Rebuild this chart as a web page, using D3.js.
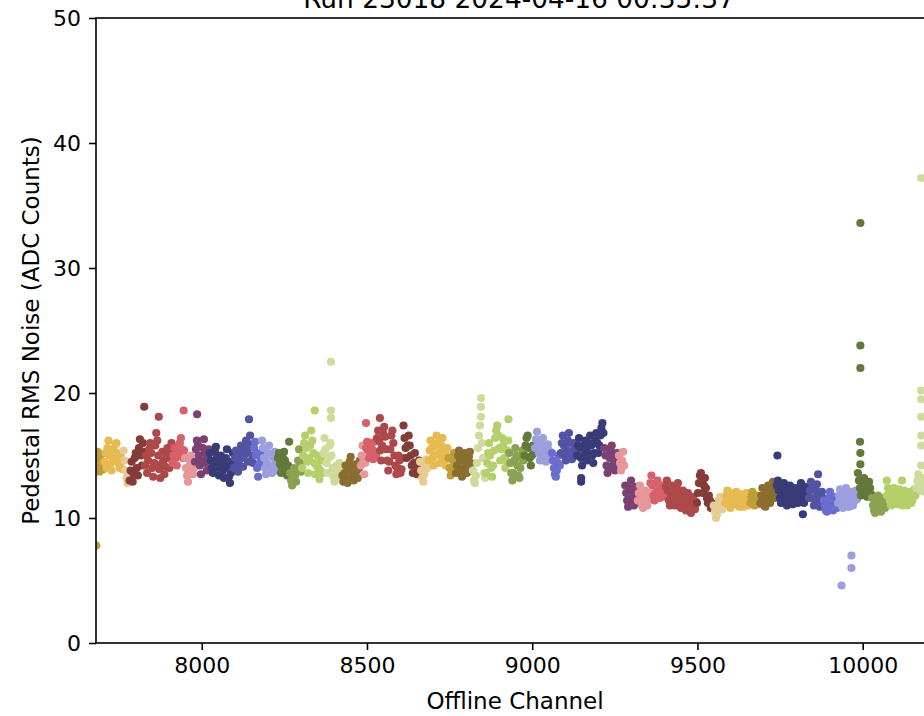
<!DOCTYPE html>
<html>
<head>
<meta charset="utf-8">
<script src="https://d3js.org/d3.v7.min.js"></script>
<style>
  body { margin: 0; background: #fff; }
  svg { display: block; font-family: "DejaVu Sans", sans-serif; }
</style>
</head>
<body>
<script>
// Pedestal RMS noise per offline channel, one APA (U, V, X planes)

var titleText = "Run 23018 2024-04-16 00:35:37";
var xTicks = [8000, 8500, 9000, 9500, 10000];
var yTicks = [0, 10, 20, 30, 40, 50];

// channel blocks (one colour each), start / end channel
var blockStart = [7680, 7704, 7762, 7780, 7827, 7910, 7948, 7978, 8023, 8096, 8157, 8181, 8229, 8266, 8302, 8367, 8424,
  8480, 8496, 8529, 8609, 8659, 8685, 8745, 8768, 8819, 8859, 8929, 8975, 9007, 9058, 9085, 9134, 9217, 9261,
  9280, 9318, 9356, 9403, 9497, 9548, 9583, 9659, 9689, 9739, 9836, 9881, 9924, 9984, 10027, 10072, 10161];
var blockEnd = [7704, 7762, 7780, 7827, 7910, 7948, 7978, 8023, 8096, 8157, 8181, 8229, 8266, 8302, 8367, 8424, 8480,
  8496, 8529, 8609, 8659, 8685, 8745, 8768, 8819, 8859, 8929, 8975, 9007, 9058, 9085, 9134, 9217, 9261, 9280,
  9318, 9356, 9403, 9497, 9548, 9583, 9659, 9689, 9739, 9836, 9881, 9924, 9984, 10027, 10072, 10161, 10240];
var blockColor = ["#bd9e39", "#e7ba52", "#e7cb94", "#843c39", "#ad494a", "#d6616b", "#e7969c", "#7b4173", "#393b79",
  "#5254a3", "#6b6ecf", "#9c9ede", "#637939", "#8ca252", "#b5cf6b", "#cedb9c", "#8c6d31",
  "#e7969c", "#d6616b", "#ad494a", "#843c39", "#e7cb94", "#e7ba52", "#bd9e39", "#8c6d31", "#cedb9c", "#b5cf6b",
  "#8ca252", "#637939", "#9c9ede", "#6b6ecf", "#5254a3", "#393b79", "#7b4173", "#e7969c",
  "#7b4173", "#e7969c", "#d6616b", "#ad494a", "#843c39", "#e7cb94", "#e7ba52", "#bd9e39", "#8c6d31", "#393b79",
  "#5254a3", "#6b6ecf", "#9c9ede", "#637939", "#8ca252", "#b5cf6b", "#cedb9c"];

// noise values read across each block, left to right
var blockValues = [
  // U plane
  [14.8, 15.3, 14.2, 13.7, 14.5, 15.1, 14.0, 13.9],
  [14.5, 15.2, 14.0, 15.6, 16.2, 15.0, 14.3, 13.8, 14.8, 15.5, 14.6, 15.9, 16.0, 15.2, 14.4, 14.0, 15.0, 14.5, 13.9],
  [15.4, 14.6, 13.8, 13.2, 12.8, 13.5],
  [13.0, 13.8, 14.5, 12.9, 13.5, 14.8, 15.2, 14.0, 13.4, 15.6, 16.3, 15.0, 14.2, 16.0, 15.3],
  [14.2, 15.0, 13.6, 14.6, 15.5, 16.0, 15.2, 14.0, 13.3, 14.4, 15.8, 16.8, 16.2, 15.0, 13.9, 13.2, 14.3, 15.3, 14.6, 13.5, 14.1, 15.0, 15.6, 14.8, 14.0, 15.4, 16.0],
  [14.4, 15.0, 15.6, 14.8, 14.2, 15.2, 15.8, 16.0, 16.4, 15.5, 14.8, 15.4],
  [14.8, 14.0, 13.4, 12.9, 13.6, 14.5, 15.0, 14.2, 13.5, 14.0],
  [14.5, 15.5, 16.2, 15.8, 15.0, 14.2, 13.5, 14.6, 15.6, 16.3, 15.2, 14.4, 13.8, 14.8, 15.5],
  [15.2, 14.6, 14.0, 13.6, 14.4, 15.3, 15.7, 14.8, 14.0, 13.4, 14.2, 15.0, 14.5, 13.8, 13.2, 14.0, 14.8, 15.5, 14.2, 13.3, 12.8, 13.6, 14.5, 15.2],
  [14.0, 14.8, 15.4, 14.2, 13.7, 14.6, 15.2, 15.8, 14.8, 14.1, 15.0, 15.6, 16.2, 15.3, 14.5, 15.8, 16.6, 15.9, 15.0, 14.4],
  [15.6, 16.1, 15.0, 14.0, 13.3, 14.2, 15.2, 14.6],
  [16.2, 15.6, 14.8, 14.0, 13.5, 14.4, 15.2, 15.8, 15.0, 14.2, 13.6, 14.0, 14.8, 15.3, 14.5, 13.8],
  [14.8, 15.2, 14.3, 13.6, 14.0, 14.8, 15.3, 14.6, 13.8, 13.4, 14.2, 16.1],
  [13.6, 13.0, 12.6, 13.2, 14.0, 13.4, 12.9, 13.8, 14.6, 15.5, 14.4, 13.7],
  [14.0, 15.0, 16.0, 16.6, 15.6, 14.5, 13.6, 14.8, 15.8, 17.0, 16.2, 15.2, 14.4, 13.5, 14.2, 15.0, 14.0, 13.1, 13.8, 14.6, 13.6],
  [15.2, 16.4, 15.5, 14.4, 13.6, 14.8, 15.8, 16.0, 15.0, 14.0, 13.3, 12.9, 13.5, 14.2, 13.2, 13.8, 14.4, 13.6, 13.1],
  [13.4, 12.9, 13.6, 14.2, 13.2, 12.8, 13.8, 14.5, 14.9, 14.0, 13.3, 13.0, 13.6, 14.3, 13.8, 13.2, 14.0, 14.6],
  // V plane
  [14.2, 15.0, 15.8, 14.6, 13.5, 14.4],
  [15.6, 16.1, 15.4, 14.8, 15.2, 16.0, 15.5, 14.7, 15.3, 16.1, 15.0],
  [16.4, 17.0, 16.2, 15.4, 14.6, 15.8, 16.8, 17.3, 16.5, 15.5, 14.6, 13.8, 14.5, 15.5, 16.6, 17.0, 16.0, 15.0, 14.2, 13.5, 14.0, 15.0, 14.6, 13.6, 13.9, 14.8],
  [17.4, 16.4, 15.6, 14.8, 15.8, 16.6, 15.8, 15.0, 14.2, 13.6, 14.4, 15.2, 14.3, 13.5, 13.9, 14.6],
  [14.5, 13.8, 13.2, 12.9, 13.5, 14.2, 14.7, 14.0],
  [14.6, 15.4, 16.2, 15.6, 14.8, 14.2, 15.0, 15.8, 16.6, 16.0, 15.2, 14.4, 15.0, 15.8, 16.4, 15.5, 14.6, 14.2, 15.0, 15.6],
  [14.8, 14.0, 13.4, 13.8, 14.6, 15.2, 14.3],
  [13.6, 14.2, 15.0, 15.4, 14.6, 13.8, 13.3, 14.0, 14.8, 15.2, 14.5, 13.6, 14.2, 14.9, 15.3, 14.4, 13.8],
  [13.8, 13.0, 12.8, 13.4, 14.4, 15.6, 16.6, 17.4, 18.1, 16.0, 14.8, 13.6, 13.2],
  [13.6, 14.4, 15.2, 16.0, 15.0, 14.0, 13.3, 14.2, 15.4, 16.4, 17.0, 17.4, 16.6, 15.6, 14.6, 15.5, 16.4, 15.8, 14.8, 14.0, 14.6, 15.4, 16.2],
  [15.2, 14.4, 13.6, 13.0, 13.6, 14.6, 15.6, 15.0, 14.2, 13.4, 13.2, 14.0, 14.8, 15.4, 14.6],
  [15.0, 15.8, 16.4, 16.6, 15.6, 14.8, 14.2, 15.0, 15.8, 15.2],
  [15.6, 16.3, 16.9, 16.0, 15.2, 14.6, 15.0, 15.8, 16.4, 15.6, 14.8, 14.5, 15.2, 15.9, 15.4, 14.8, 15.2],
  [15.2, 14.6, 14.0, 13.5, 13.3, 13.8, 14.4, 15.0, 14.2],
  [15.2, 16.0, 16.6, 15.8, 15.0, 14.6, 15.4, 16.2, 16.8, 16.0, 15.2, 14.7, 15.4, 16.0, 15.5, 15.0],
  [15.0, 15.8, 16.4, 15.6, 14.8, 14.2, 15.0, 15.8, 16.2, 15.4, 14.6, 15.2, 16.0, 16.6, 15.8, 15.0, 14.4, 15.2, 16.2, 16.8, 16.0, 15.2, 15.8, 16.6, 17.2, 17.6, 16.8],
  [15.6, 15.0, 14.2, 13.6, 14.0, 14.8, 15.4, 15.8, 15.0, 14.3, 13.8, 14.4, 15.2, 14.6],
  [15.0, 14.4, 13.8, 14.6, 15.3, 14.2],
  // X (collection) plane
  [12.6, 12.0, 11.4, 10.9, 11.6, 12.4, 13.0, 12.2, 11.5, 11.0, 11.8, 12.5, 11.8],
  [11.4, 12.0, 12.6, 11.8, 11.0, 10.8, 11.5, 12.2, 11.6, 11.0, 11.4, 12.0],
  [12.8, 13.4, 12.6, 11.8, 11.4, 12.0, 12.8, 13.0, 12.2, 11.6, 11.9, 12.6, 12.2, 11.7, 12.4],
  [12.5, 13.0, 12.2, 11.4, 11.0, 11.8, 12.6, 12.2, 11.5, 11.0, 11.6, 12.4, 12.8, 12.0, 11.2, 10.8, 11.5, 12.2, 11.8, 11.0, 10.6, 11.2, 12.0, 11.6, 10.8, 10.4, 11.0, 11.7, 11.2, 10.7, 11.3],
  [11.2, 12.0, 12.8, 13.4, 13.6, 12.8, 12.0, 12.6, 13.2, 12.4, 11.6, 11.2, 11.8, 11.4, 10.8, 11.2, 11.0],
  [11.0, 10.5, 10.0, 10.3, 10.9, 11.5, 11.7, 11.2, 10.7, 11.0, 11.4],
  [11.2, 11.8, 12.2, 11.6, 11.0, 10.8, 11.4, 12.0, 11.6, 11.1, 11.5, 12.1, 11.7, 11.0, 10.9, 11.4, 11.9, 11.3, 10.9, 11.2, 11.8, 12.0, 11.4, 11.0, 11.3],
  [11.2, 11.7, 12.1, 11.6, 11.0, 11.3, 11.8, 11.4, 11.1, 11.6],
  [11.2, 11.8, 12.4, 11.6, 11.0, 10.9, 11.5, 12.2, 12.6, 11.8, 11.2, 11.6, 12.3, 12.9, 12.2, 11.6, 12.0],
  [12.6, 13.0, 12.2, 11.6, 11.2, 11.8, 12.5, 12.8, 12.0, 11.4, 11.0, 11.6, 12.2, 12.6, 12.0, 11.3, 11.1, 11.7, 12.4, 12.0, 11.5, 11.2, 11.8, 12.4, 12.8, 12.1, 11.4, 11.2, 11.9, 12.5, 12.0, 11.6],
  [11.6, 12.2, 12.9, 12.4, 11.6, 11.0, 11.5, 12.2, 12.7, 12.0, 11.3, 10.9, 11.4, 12.1, 11.6],
  [11.4, 11.0, 10.6, 10.5, 11.0, 11.6, 12.1, 11.5, 10.9, 10.6, 11.1, 11.7, 11.2, 10.8],
  [11.2, 11.8, 12.3, 11.6, 11.0, 10.8, 11.4, 12.0, 12.4, 11.7, 11.1, 10.9, 11.5, 12.1, 11.6, 11.0, 11.3, 11.9, 12.2, 11.5],
  [13.6, 13.0, 12.4, 11.8, 12.2, 12.8, 13.2, 12.6, 12.0, 11.7, 12.3, 12.9, 12.4, 11.9],
  [11.6, 11.0, 10.6, 10.4, 10.9, 11.5, 11.8, 11.2, 10.7, 10.5, 11.0, 11.6, 11.3, 10.8, 11.2],
  [11.8, 12.4, 12.0, 11.4, 11.0, 11.5, 12.2, 12.4, 11.8, 11.2, 11.1, 11.7, 12.3, 11.9, 11.3, 11.0, 11.6, 12.2, 11.8, 11.2, 11.0, 11.5, 12.1, 11.7, 11.2, 11.4, 12.0, 12.3, 11.8],
  [12.4, 13.0, 13.5, 12.8, 12.2, 12.6, 13.2, 12.7, 12.1, 12.5, 13.0, 12.6, 12.2, 12.8, 13.3, 12.7, 12.3, 12.6, 13.1, 12.8, 12.3, 12.7, 13.2, 12.6, 12.2, 12.8]
];

// single noisy / dead channels
var outlierChannel = [7681, 7826, 7870, 7945, 7986, 8143, 8342, 8391, 8391, 8391, 8497, 8539, 8845, 8845, 8928,
  9148, 9148, 9742, 9819, 9865, 9936, 9966, 9966, 9993, 9993, 9993, 9992, 9993, 9993,
  10073, 10119, 10177, 10177, 10177, 10177, 10177, 10177, 10177];
var outlierValue = [7.8, 18.9, 18.1, 18.6, 18.3, 17.9, 18.6, 18.6, 18.0, 22.5, 17.6, 18.0, 19.6, 18.9, 17.9,
  13.2, 12.9, 15.0, 10.3, 13.5, 4.6, 7.0, 6.0, 33.6, 23.8, 22.0, 16.1, 15.2, 14.3,
  13.0, 13.0, 37.2, 20.2, 19.5, 18.1, 16.6, 15.8, 14.2];
var outlierColor = ["#bd9e39", "#843c39", "#ad494a", "#d6616b", "#7b4173", "#5254a3", "#b5cf6b", "#cedb9c", "#cedb9c", "#cedb9c",
  "#d6616b", "#ad494a", "#cedb9c", "#cedb9c", "#b5cf6b", "#393b79", "#393b79", "#393b79", "#393b79", "#5254a3",
  "#9c9ede", "#9c9ede", "#9c9ede", "#637939", "#637939", "#637939", "#637939", "#637939", "#637939",
  "#b5cf6b", "#b5cf6b", "#cedb9c", "#cedb9c", "#cedb9c", "#cedb9c", "#cedb9c", "#cedb9c", "#cedb9c"];

// Define SVG area dimensions
var svgWidth = 924;
var svgHeight = 716;

var chartMargin = { top: 18, left: 96 };
var chartWidth = 846;
var chartHeight = 625;

var svg = d3.select("body")
  .append("svg")
  .attr("width", svgWidth)
  .attr("height", svgHeight);

var chartGroup = svg.append("g")
  .attr("transform", `translate(${chartMargin.left}, ${chartMargin.top})`);

var xLinearScale = d3.scaleLinear()
  .domain([7680, 10240])
  .range([0, chartWidth]);

var yLinearScale = d3.scaleLinear()
  .domain([0, 50])
  .range([chartHeight, 0]);

// flatten blocks into points
var points = [];
blockValues.forEach(function(vals, b) {
  var step = (blockEnd[b] - blockStart[b]) / vals.length;
  vals.forEach(function(v, i) {
    points.push({ ch: blockStart[b] + (i + 0.5) * step, v: v, c: blockColor[b] });
  });
});
outlierChannel.forEach(function(ch, i) {
  points.push({ ch: ch, v: outlierValue[i], c: outlierColor[i] });
});

chartGroup.append("clipPath")
  .attr("id", "plot-clip")
  .append("rect")
  .attr("width", chartWidth)
  .attr("height", chartHeight);

chartGroup.append("g")
  .attr("clip-path", "url(#plot-clip)")
  .selectAll("circle")
  .data(points)
  .enter()
  .append("circle")
  .attr("cx", d => xLinearScale(d.ch))
  .attr("cy", d => yLinearScale(d.v))
  .attr("r", 4.1)
  .attr("fill", d => d.c);

// axes
var bottomAxis = d3.axisBottom(xLinearScale)
  .tickValues(xTicks)
  .tickSize(7)
  .tickPadding(7)
  .tickSizeOuter(0)
  .tickFormat(d3.format("d"));
var leftAxis = d3.axisLeft(yLinearScale)
  .tickValues(yTicks)
  .tickSize(7)
  .tickPadding(8)
  .tickSizeOuter(0);

var xAxis = chartGroup.append("g")
  .attr("transform", `translate(0, ${chartHeight})`)
  .call(bottomAxis);
var yAxis = chartGroup.append("g")
  .call(leftAxis);

[xAxis, yAxis].forEach(function(ax) {
  ax.select(".domain").remove();
  ax.selectAll("line").attr("stroke", "#000").attr("stroke-width", 1.6);
  ax.selectAll("text")
    .attr("fill", "#000")
    .style("font-size", "22px")
    .style("font-family", "DejaVu Sans");
});

// spines
chartGroup.append("rect")
  .attr("width", chartWidth)
  .attr("height", chartHeight)
  .attr("fill", "none")
  .attr("stroke", "#000")
  .attr("stroke-width", 1.6);

// labels
svg.append("text")
  .attr("x", 515)
  .attr("y", 709)
  .attr("text-anchor", "middle")
  .style("font-size", "23px")
  .text("Offline Channel");

svg.append("text")
  .attr("transform", `translate(39, ${chartMargin.top + chartHeight / 2}) rotate(-90)`)
  .attr("text-anchor", "middle")
  .style("font-size", "23px")
  .text("Pedestal RMS Noise (ADC Counts)");

svg.append("text")
  .attr("x", chartMargin.left + chartWidth / 2)
  .attr("y", 8)
  .attr("text-anchor", "middle")
  .style("font-size", "26.4px")
  .text(titleText);
</script>
</body>
</html>
